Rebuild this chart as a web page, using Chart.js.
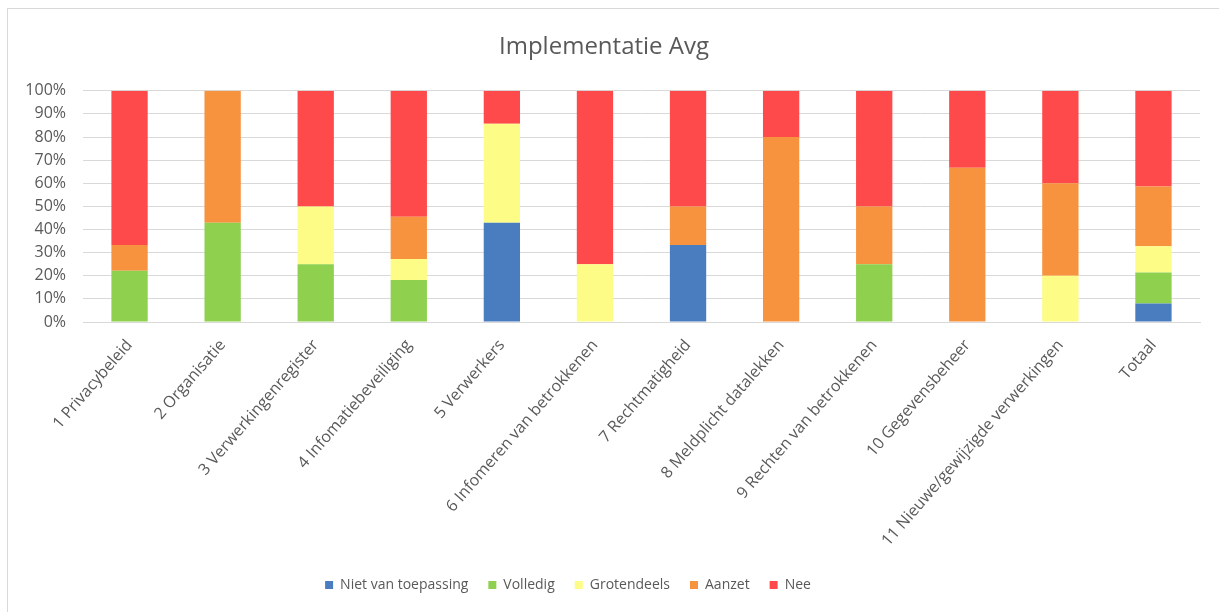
<!DOCTYPE html>
<html>
<head>
<meta charset="utf-8">
<title>Implementatie Avg</title>
<script src="https://cdn.jsdelivr.net/npm/chart.js@4/dist/chart.umd.min.js"></script>
<style>
  html, body { margin: 0; padding: 0; background: #fff; }
  #frame {
    position: absolute; left: 7px; top: 8px; right: -5px; bottom: -5px;
    border: 1px solid #d9d9d9;
  }
  #wrap { position: absolute; left: 0; top: 0; width: 1219px; height: 612px; }
</style>
</head>
<body>
<div id="frame"></div>
<div id="wrap"><canvas id="avgChart" width="1219" height="612"></canvas></div>
<script>
// Onderdelen van de AVG-implementatie (x-as)
const categories = [
  '1 Privacybeleid', '2 Organisatie', '3 Verwerkingenregister', '4 Infomatiebeveiliging',
  '5 Verwerkers', '6 Infomeren van betrokkenen', '7 Rechtmatigheid', '8 Meldplicht datalekken',
  '9 Rechten van betrokkenen', '10 Gegevensbeheer', '11 Nieuwe/gewijzigde verwerkingen', 'Totaal'
];

// Aandeel per status, in procenten
const nietVanToepassing = [0, 0, 0, 0, 42.9, 0, 33.3, 0, 0, 0, 0, 8.0];
const volledig          = [22.2, 42.9, 25, 18.2, 0, 0, 0, 0, 25, 0, 0, 13.4];
const grotendeels       = [0, 0, 25, 9.1, 42.9, 25, 0, 0, 0, 0, 20, 11.4];
const aanzet            = [11.1, 57.1, 0, 18.2, 0, 0, 16.7, 80, 25, 66.7, 40, 25.8];
const nee               = [66.7, 0, 50, 54.5, 14.2, 75, 50, 20, 50, 33.3, 40, 41.4];

const yTicks = [0, 10, 20, 30, 40, 50, 60, 70, 80, 90, 100];

const textColor = '#595959';
const gridColor = '#d9d9d9';

function series(label, data, color) {
  return {
    label: label,
    data: data,
    backgroundColor: color,
    borderWidth: 0,
    barPercentage: 0.39,
    categoryPercentage: 1.0
  };
}

// legenda iets naar links, zoals in Excel
const legendShift = {
  id: 'legendShift',
  afterLayout(chart) {
    chart.legend.left -= 36;
    chart.legend.right -= 36;
  }
};

const ctx = document.getElementById('avgChart').getContext('2d');
new Chart(ctx, {
  type: 'bar',
  data: {
    labels: categories,
    datasets: [
      series('Niet van toepassing', nietVanToepassing, '#4a7dc0'),
      series('Volledig', volledig, '#8fd14f'),
      series('Grotendeels', grotendeels, '#fdfc86'),
      series('Aanzet', aanzet, '#f7923f'),
      series('Nee', nee, '#fe4a4a')
    ]
  },
  plugins: [legendShift],
  options: {
    responsive: false,
    animation: false,
    layout: { padding: { left: 8, right: 19, top: 0, bottom: 10 } },
    plugins: {
      title: {
        display: true,
        text: 'Implementatie Avg',
        color: textColor,
        font: { family: 'Open Sans', size: 24, weight: 'normal' },
        padding: { top: 33, bottom: 29 }
      },
      legend: {
        position: 'bottom',
        labels: {
          color: textColor,
          font: { family: 'Open Sans', size: 14 },
          boxWidth: 8,
          boxHeight: 8,
          padding: 20
        }
      },
      tooltip: { enabled: false }
    },
    scales: {
      x: {
        stacked: true,
        grid: { display: false },
        border: { color: gridColor },
        ticks: {
          color: textColor,
          font: { family: 'Open Sans', size: 16 },
          minRotation: 49,
          maxRotation: 49,
          padding: 6,
          autoSkip: false
        },
        afterFit: function(scale) { scale.height = 236; }
      },
      y: {
        stacked: true,
        min: 0,
        max: 100,
        grid: { color: gridColor, drawTicks: false },
        border: { display: false },
        afterBuildTicks: function(scale) {
          scale.ticks = yTicks.map(v => ({ value: v }));
        },
        ticks: {
          color: textColor,
          font: { family: 'Open Sans', size: 16 },
          padding: 17,
          callback: v => v + '%'
        },
        afterFit: function(scale) { scale.width = 75; }
      }
    }
  }
});
</script>
</body>
</html>
